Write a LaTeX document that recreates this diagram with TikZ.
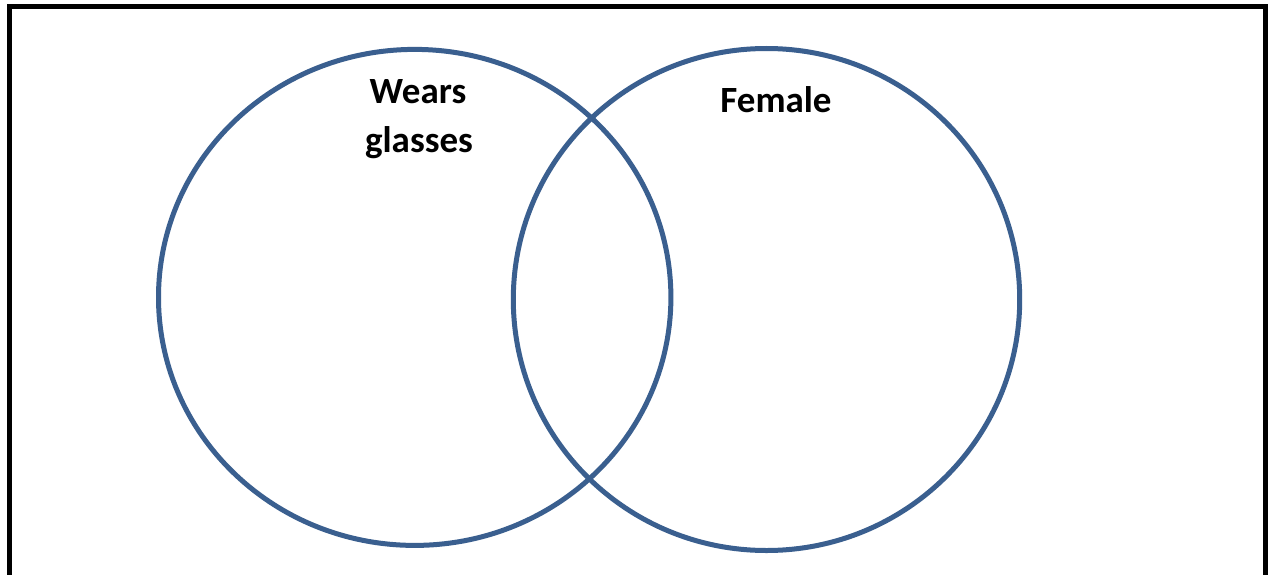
\documentclass[tikz,border=0pt]{standalone}
\usepackage{fontspec}
\setmainfont{Carlito}
\definecolor{vennblue}{HTML}{3A5F8F}
\tikzset{
  vennset/.style={draw=vennblue, line width=5pt},
  framebox/.style={draw=black, line width=5pt, line join=miter},
  setlabel/.style={font=\fontsize{37}{44}\selectfont\bfseries, anchor=base, inner sep=0pt}
}
\begin{document}
\begin{tikzpicture}[x=1pt,y=1pt]
\useasboundingbox (0,0) rectangle (1268,-575);
\fill[white] (0,0) rectangle (1268,-575);
\draw[framebox] (9.2,-590) -- (9.2,-6.8) -- (1265.5,-6.8) -- (1265.5,-590);
\draw[vennset] (414.7,-297.4) ellipse [x radius=256.2, y radius=248];
\draw[vennset] (766.5,-299.5) ellipse [x radius=253.2, y radius=251];
\node[setlabel] (wears) at (418,-103) {Wears};
\node[setlabel] (glasses) at (419,-153) {glasses};
\node[setlabel] (female) at (776,-113) {Female};
\end{tikzpicture}
\end{document}
